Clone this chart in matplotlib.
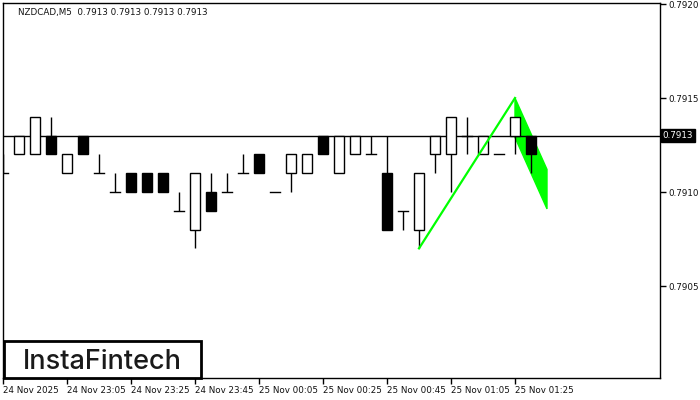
import matplotlib
matplotlib.use("Agg")
import matplotlib.pyplot as plt
from matplotlib.patches import Rectangle, Polygon

# candle data, M5 bars from 24 Nov 22:45
opens  = [0.7911, 0.7912, 0.7912, 0.7913, 0.7911, 0.7913, 0.7911, 0.7910, 0.7911, 0.7911,
          0.7911, 0.7909, 0.7908, 0.7910, 0.7910, 0.7911, 0.7912, 0.7910, 0.7911, 0.7911,
          0.7913, 0.7911, 0.7912, 0.7912, 0.7911, 0.7909, 0.7908, 0.7912, 0.7912, 0.7913,
          0.7912, 0.7912, 0.7913, 0.7913]
highs  = [0.7912, 0.7913, 0.7914, 0.7914, 0.7912, 0.7913, 0.7912, 0.7911, 0.7911, 0.7911,
          0.7911, 0.7910, 0.7911, 0.7911, 0.7911, 0.7912, 0.7912, 0.7910, 0.7912, 0.7912,
          0.7913, 0.7913, 0.7913, 0.7913, 0.7913, 0.7909, 0.7911, 0.7913, 0.7914, 0.7914,
          0.7913, 0.7912, 0.7914, 0.7913]
lows   = [0.7911, 0.7912, 0.7912, 0.7912, 0.7911, 0.7912, 0.7911, 0.7910, 0.7910, 0.7910,
          0.7910, 0.7909, 0.7907, 0.7909, 0.7910, 0.7911, 0.7911, 0.7910, 0.7910, 0.7911,
          0.7912, 0.7911, 0.7912, 0.7912, 0.7908, 0.7908, 0.7907, 0.7911, 0.7910, 0.7912,
          0.7912, 0.7912, 0.7912, 0.7911]
closes = [0.7911, 0.7913, 0.7914, 0.7912, 0.7912, 0.7912, 0.7911, 0.7910, 0.7910, 0.7910,
          0.7910, 0.7909, 0.7911, 0.7909, 0.7910, 0.7911, 0.7911, 0.7910, 0.7912, 0.7912,
          0.7912, 0.7913, 0.7913, 0.7912, 0.7908, 0.7909, 0.7911, 0.7913, 0.7914, 0.7913,
          0.7913, 0.7912, 0.7914, 0.7912]

xtick_pos = [0, 4, 8, 12, 16, 20, 24, 28, 32]
xtick_labels = ["24 Nov 2025", "24 Nov 23:05", "24 Nov 23:25", "24 Nov 23:45",
                "25 Nov 00:05", "25 Nov 00:25", "25 Nov 00:45", "25 Nov 01:05", "25 Nov 01:25"]
ytick_vals = [0.7905, 0.7910, 0.7915, 0.7920]
current_price = 0.7913

# bullish flag pattern
pole_x = [26, 32]
pole_y = [0.7907, 0.7915]
flag_x = [32, 34, 34, 32]
flag_y = [0.7915, 0.79112, 0.79091, 0.79129]

fig = plt.figure(figsize=(7, 4), dpi=100)
ax = fig.add_axes([3/700, 22/400, 657/700, 375/400])
ax.set_xlim(0, 657/16)
ax.set_ylim(0.7920 - 374/188000, 0.7920 + 1/188000)

# flag body sits under the candles, the pole line over them
ax.plot(pole_x, pole_y, color="#00ff00", lw=1.6, zorder=6)
ax.add_patch(Polygon(list(zip(flag_x, flag_y)), closed=True,
                     facecolor="#00ff00", edgecolor="#00ff00", lw=1, zorder=1))

ax.axhline(current_price, color="black", lw=1, zorder=2)

w = 0.65
for i in range(len(opens)):
    o, h, l, c = opens[i], highs[i], lows[i], closes[i]
    ax.plot([i, i], [l, h], color="black", lw=1, zorder=3, solid_capstyle="butt")
    if o == c:
        ax.plot([i - w/2, i + w/2], [o, o], color="black", lw=1, zorder=4)
    else:
        face = "white" if c > o else "black"
        ax.add_patch(Rectangle((i - w/2, min(o, c)), w, abs(c - o),
                               facecolor=face, edgecolor="black", lw=1, zorder=4))

for s in ax.spines.values():
    s.set_linewidth(1)
    s.set_color("black")

ax.set_xticks(xtick_pos)
ax.set_xticklabels(xtick_labels, fontsize=6.3, ha="left", color="#111111")
ax.tick_params(axis="x", direction="out", length=4, width=1, pad=2)

ax.yaxis.tick_right()
ax.set_yticks(ytick_vals)
ax.set_yticklabels(["%.4f" % v for v in ytick_vals], fontsize=6.3, color="#111111")
ax.tick_params(axis="y", direction="out", length=4, width=1, pad=2)

ax.text(1.004, current_price, "%.4f" % current_price, transform=ax.get_yaxis_transform(),
        fontsize=6.3, color="white", va="center", ha="left",
        bbox=dict(boxstyle="square,pad=0.2", facecolor="black", edgecolor="black"))

fig.text(18/700, 1 - 12/400, "NZDCAD,M5  0.7913 0.7913 0.7913 0.7913",
         fontsize=6.3, color="#111111", va="center", ha="left")

# logo box
fig.patches.append(Rectangle((4/700, 22/400), 197/700, 37/400, transform=fig.transFigure,
                             facecolor="white", edgecolor="black", lw=2, zorder=5))
fig.text(102/700, 1 - 369/400, "InstaFintech", fontsize=19.5, family="Inter",
         weight="medium", color="#1a1a1a", va="baseline", ha="center", zorder=6)

fig.savefig("out.png", dpi=100)
